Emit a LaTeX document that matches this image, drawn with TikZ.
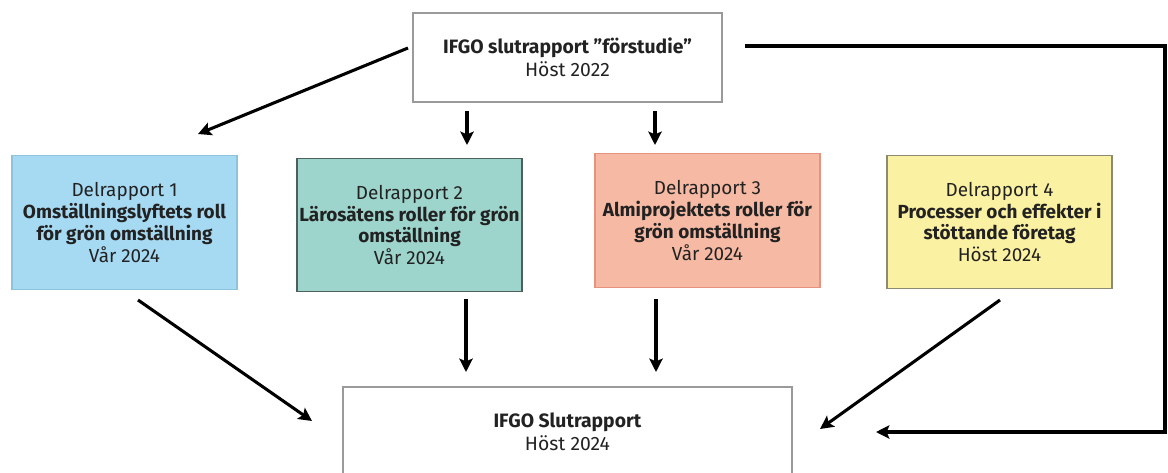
\documentclass[tikz,border=0pt]{standalone}
\usepackage{fontspec}
\setmainfont{Fira Sans}
\usetikzlibrary{arrows.meta}
\definecolor{c1fill}{HTML}{A6D9F2}\definecolor{c1line}{HTML}{8FC3DC}
\definecolor{c2fill}{HTML}{9DD4CC}\definecolor{c2line}{HTML}{4F5F5C}
\definecolor{c3fill}{HTML}{F6B9A3}\definecolor{c3line}{HTML}{E6927F}
\definecolor{c4fill}{HTML}{FBF1A3}\definecolor{c4line}{HTML}{8C8A72}
\definecolor{gline}{HTML}{9A9A9A}
\definecolor{txt}{HTML}{222222}
\begin{document}
\begin{tikzpicture}[x=0.75pt,y=-0.75pt,
  box/.style={draw, line width=0.9pt, align=center, text=txt, inner sep=0pt,
    font=\fontsize{14.2pt}{16.3pt}\selectfont},
  rep/.style={box, minimum width=168.75pt, minimum height=100pt},
  endbox/.style={box, draw=gline, font=\fontsize{14.5pt}{17.5pt}\selectfont},
  arr/.style={line width=2.3pt, -{Stealth[length=10pt,width=10pt,inset=2pt]}}]
\useasboundingbox (0,0) rectangle (1168,472);
\node[endbox, minimum width=231.75pt, minimum height=66.75pt] (top) at (567.5,57.5)
  {\textbf{IFGO slutrapport ”förstudie”}\\Höst 2022};
\node[rep, fill=c1fill, draw=c1line] (d1) at (124.5,222.5)
  {Delrapport 1\\\textbf{Omställningslyftets roll}\\\textbf{för grön omställning}\\Vår 2024};
\node[rep, fill=c2fill, draw=c2line] (d2) at (409.5,225)
  {Delrapport 2\\\textbf{Lärosätens roller för grön}\\\textbf{omställning}\\Vår 2024};
\node[rep, fill=c3fill, draw=c3line] (d3) at (707.5,220.5)
  {Delrapport 3\\\textbf{Almiprojektets roller för}\\\textbf{grön omställning}\\Vår 2024};
\node[rep, fill=c4fill, draw=c4line] (d4) at (999.5,222)
  {Delrapport 4\\\textbf{Processer och effekter i}\\\textbf{stöttande företag}\\Höst 2024};
\node[endbox, minimum width=336.75pt, minimum height=67.5pt] (bot) at (567.5,432)
  {\textbf{IFGO Slutrapport}\\Höst 2024};
% arrow endpoints
\coordinate (a1s) at (408,48);  \coordinate (a1e) at (198,134);
\coordinate (a2s) at (467,111); \coordinate (a2e) at (467,145);
\coordinate (a3s) at (655,111); \coordinate (a3e) at (655,145);
\coordinate (b1s) at (138,300); \coordinate (b1e) at (312,421);
\coordinate (b2s) at (466,299); \coordinate (b2e) at (466,372);
\coordinate (b3s) at (656,299); \coordinate (b3e) at (656,372);
\coordinate (b4s) at (1000,300); \coordinate (b4e) at (820,429);
\coordinate (ls) at (745,46); \coordinate (lc1) at (1165,46);
\coordinate (lc2) at (1165,432); \coordinate (le) at (876,432);
\draw[arr] (a1s) -- (a1e);
\draw[arr] (a2s) -- (a2e);
\draw[arr] (a3s) -- (a3e);
\draw[arr] (b1s) -- (b1e);
\draw[arr] (b2s) -- (b2e);
\draw[arr] (b3s) -- (b3e);
\draw[arr] (b4s) -- (b4e);
\draw[arr, line join=miter] (ls) -- (lc1) -- (lc2) -- (le);
\end{tikzpicture}
\end{document}
